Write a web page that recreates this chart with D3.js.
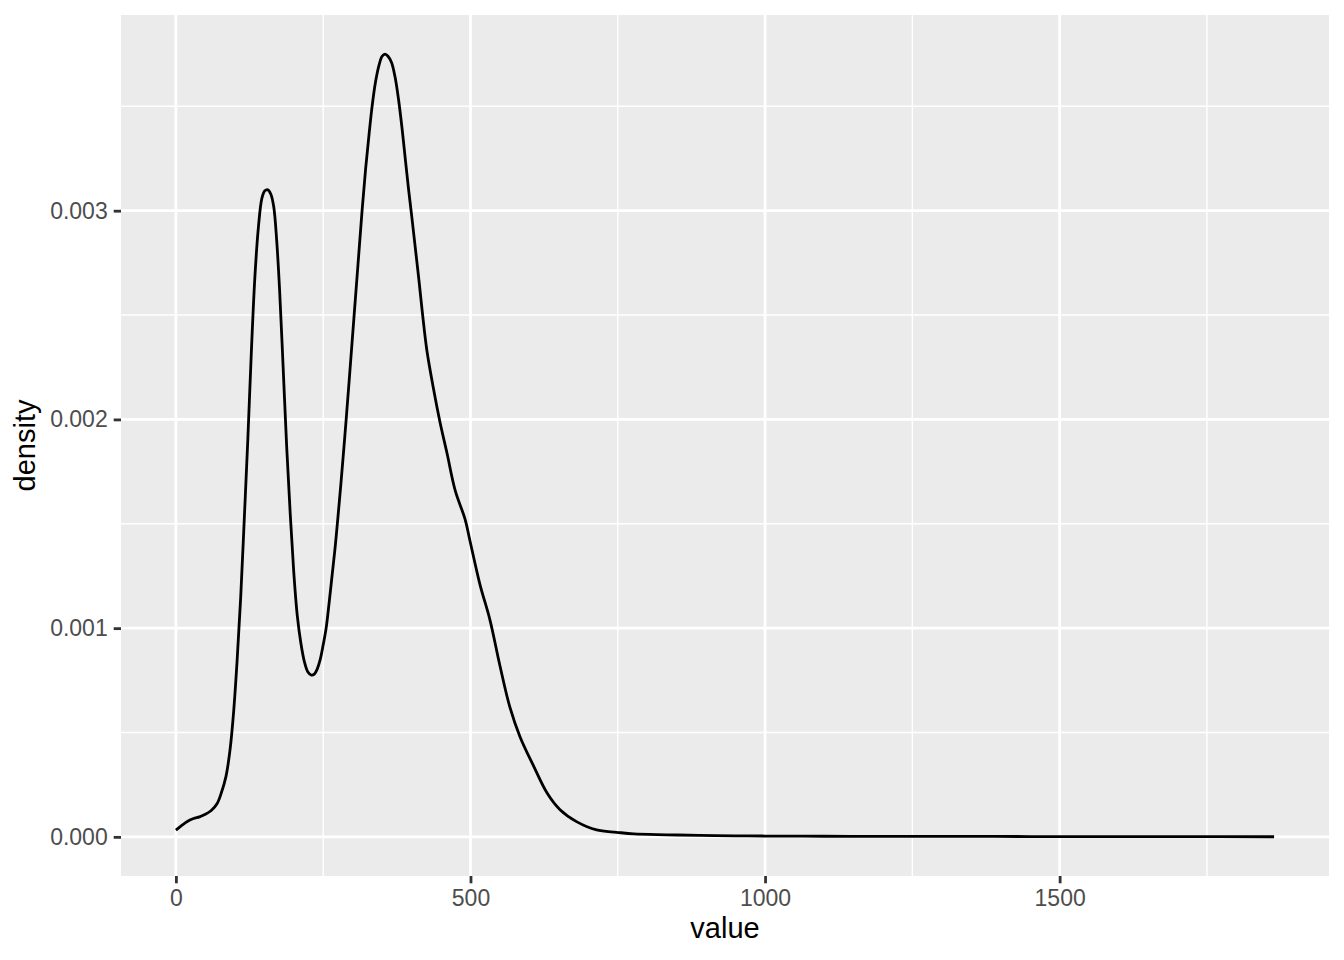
<!DOCTYPE html>
<html>
<head>
<meta charset="utf-8">
<script src="https://cdn.jsdelivr.net/npm/d3@7"></script>
<style>
  html, body { margin: 0; padding: 0; background: #ffffff; }
  svg { display: block; }
  text { font-family: "Liberation Sans", Arial, Helvetica, sans-serif; }
</style>
</head>
<body>
<svg id="chart" width="1344" height="960"></svg>
<script>
// ---- data ----
const valueX = [0, 10, 20, 30, 40, 50, 60, 70, 77, 85, 92, 98, 104, 110, 116, 122, 128, 134, 140, 146, 151, 156, 161, 166, 171, 176, 182, 188, 194, 200, 206, 212, 218, 224, 230, 235, 240, 245, 250, 255, 260, 265, 270, 274, 280, 285, 289, 295, 302, 309, 316, 322, 328, 333, 339, 345, 350, 355, 360, 366, 372, 378, 384, 390, 395, 400, 406, 412, 418, 426, 437, 448, 460, 474, 491, 499, 516, 533, 550, 567, 584, 607, 630, 652, 680, 714, 748, 777, 833, 889, 950, 1000, 1100, 1200, 1300, 1390, 1500, 1600, 1700, 1864];
const densityY = [0.000032, 0.000055, 0.000075, 0.000088, 0.000096, 0.000108, 0.000126, 0.00016, 0.00021, 0.00029, 0.00042, 0.00060, 0.00085, 0.00115, 0.00152, 0.00190, 0.00232, 0.00268, 0.00292, 0.00306, 0.003095, 0.00310, 0.00308, 0.00302, 0.00286, 0.00262, 0.00225, 0.00187, 0.00155, 0.00127, 0.00106, 0.00093, 0.00084, 0.00079, 0.000775, 0.00078, 0.000805, 0.00085, 0.00092, 0.00100, 0.00112, 0.00125, 0.00138, 0.00150, 0.00169, 0.00186, 0.00200, 0.00222, 0.00248, 0.00274, 0.00300, 0.00320, 0.00337, 0.00350, 0.00362, 0.00370, 0.00374, 0.00375, 0.00374, 0.00371, 0.00364, 0.00353, 0.00339, 0.00323, 0.00310, 0.00298, 0.00283, 0.00268, 0.00252, 0.00233, 0.00215, 0.00199, 0.00184, 0.00166, 0.00152, 0.00142, 0.00121, 0.00104, 0.00082, 0.00062, 0.00048, 0.00034, 0.00021, 0.00013, 0.000073, 0.000033, 0.000022, 0.000014, 0.00001, 0.000007, 0.000005, 0.000004, 0.000003, 0.000002, 0.000002, 0.000002, 0.000001, 0.000001, 0.000001, 0.0000005];

const xMajorTicks = [0, 500, 1000, 1500];
const xMinorTicks = [250, 750, 1250, 1750];
const yMajorTicks = [0, 0.001, 0.002, 0.003];
const yMinorTicks = [0.0005, 0.0015, 0.0025, 0.0035];
const yTickLabels = ["0.000", "0.001", "0.002", "0.003"];
const xTitle = "value";
const yTitle = "density";

// ---- layout ----
const panel = { left: 121, right: 1329, top: 15, bottom: 876 };
const svg = d3.select("#chart");

const xMin = d3.min(valueX), xMax = d3.max(valueX);
const yMin = 0, yMax = d3.max(densityY);
const xPad = (xMax - xMin) * 0.05, yPad = (yMax - yMin) * 0.05;

const x = d3.scaleLinear().domain([xMin - xPad, xMax + xPad]).range([panel.left, panel.right]);
const y = d3.scaleLinear().domain([yMin - yPad, yMax + yPad]).range([panel.bottom, panel.top]);

// panel background
svg.append("rect")
  .attr("x", panel.left).attr("y", panel.top)
  .attr("width", panel.right - panel.left).attr("height", panel.bottom - panel.top)
  .attr("fill", "#EBEBEB");

const grid = svg.append("g");
// minor grid
grid.selectAll(".xminor").data(xMinorTicks).enter().append("line")
  .attr("x1", d => x(d)).attr("x2", d => x(d))
  .attr("y1", panel.top).attr("y2", panel.bottom)
  .attr("stroke", "#ffffff").attr("stroke-width", 1.4);
grid.selectAll(".yminor").data(yMinorTicks).enter().append("line")
  .attr("y1", d => y(d)).attr("y2", d => y(d))
  .attr("x1", panel.left).attr("x2", panel.right)
  .attr("stroke", "#ffffff").attr("stroke-width", 1.4);
// major grid
grid.selectAll(".xmajor").data(xMajorTicks).enter().append("line")
  .attr("x1", d => x(d)).attr("x2", d => x(d))
  .attr("y1", panel.top).attr("y2", panel.bottom)
  .attr("stroke", "#ffffff").attr("stroke-width", 2.8);
grid.selectAll(".ymajor").data(yMajorTicks).enter().append("line")
  .attr("y1", d => y(d)).attr("y2", d => y(d))
  .attr("x1", panel.left).attr("x2", panel.right)
  .attr("stroke", "#ffffff").attr("stroke-width", 2.8);

// density line
const pts = valueX.map((v, i) => [v, densityY[i]]);
const line = d3.line().x(d => x(d[0])).y(d => y(d[1])).curve(d3.curveCatmullRom.alpha(0.5));
svg.append("path").datum(pts)
  .attr("d", line)
  .attr("fill", "none")
  .attr("stroke", "#000000")
  .attr("stroke-width", 2.8)
  .attr("stroke-linejoin", "round")
  .attr("stroke-linecap", "butt");

// axes
const xAxis = d3.axisBottom(x).tickValues(xMajorTicks).tickSize(7.3).tickPadding(6).tickFormat(d3.format("d"));
const gx = svg.append("g").attr("transform", `translate(0,${panel.bottom})`).call(xAxis);
gx.select(".domain").remove();
gx.selectAll(".tick line").attr("stroke", "#333333").attr("stroke-width", 2.8);
gx.selectAll(".tick text").attr("fill", "#4D4D4D").style("font-size", "23px")
  .attr("dy", "0.72em");

const yAxis = d3.axisLeft(y).tickValues(yMajorTicks).tickSize(7.3).tickPadding(6)
  .tickFormat((d, i) => yTickLabels[i]);
const gy = svg.append("g").attr("transform", `translate(${panel.left},0)`).call(yAxis);
gy.select(".domain").remove();
gy.selectAll(".tick line").attr("stroke", "#333333").attr("stroke-width", 2.8);
gy.selectAll(".tick text").attr("fill", "#4D4D4D").style("font-size", "23px");

// titles
svg.append("text")
  .attr("x", (panel.left + panel.right) / 2).attr("y", 938)
  .attr("text-anchor", "middle")
  .attr("fill", "#000000").style("font-size", "29px")
  .text(xTitle);

svg.append("text")
  .attr("transform", `translate(35,${(panel.top + panel.bottom) / 2}) rotate(-90)`)
  .attr("text-anchor", "middle")
  .attr("fill", "#000000").style("font-size", "29px")
  .text(yTitle);
</script>
</body>
</html>
